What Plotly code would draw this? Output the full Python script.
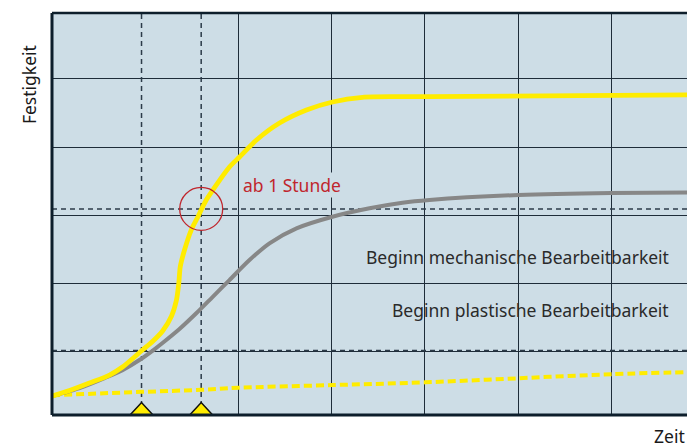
import plotly.graph_objects as go

# ---- data (arbitrary units: x = time grid units, y = strength grid units)
yellow_x = [0.0, 0.188, 0.402, 0.617, 0.756, 0.970, 1.078, 1.186, 1.282, 1.335, 1.360, 1.375, 1.421,
            1.493, 1.564, 1.654, 1.903, 2.011, 2.193, 2.440, 2.729, 3.008, 3.330, 3.694, 4.048, 6.81]
yellow_y = [0.338, 0.419, 0.529, 0.647, 0.765, 1.015, 1.140, 1.294, 1.515, 1.750, 2.000, 2.235, 2.485,
            2.779, 2.971, 3.221, 3.706, 3.853, 4.103, 4.353, 4.544, 4.662, 4.731, 4.740, 4.740, 4.765]

gray_x = [0.0, 0.295, 0.563, 0.756, 0.938, 1.088, 1.185, 1.367, 1.550, 1.721, 1.903, 2.118, 2.332, 2.622,
          3.008, 3.405, 3.759, 4.048, 5.003, 6.000, 6.81]
gray_y = [0.338, 0.456, 0.603, 0.720, 0.868, 1.015, 1.118, 1.324, 1.559, 1.794, 2.044, 2.338, 2.584, 2.804,
          2.975, 3.099, 3.181, 3.221, 3.294, 3.324, 3.331]

dashed_x = [0.0, 0.96, 1.60, 2.0, 3.01, 4.0, 5.0, 6.0, 6.81]
dashed_y = [0.35, 0.40, 0.43, 0.46, 0.50, 0.54, 0.60, 0.66, 0.69]

marker_times = [0.96, 1.60]          # dashed verticals + triangles
level_mech = 3.09                     # Beginn mechanische Bearbeitbarkeit
level_plast = 1.01                    # Beginn plastische Bearbeitbarkeit
x_grid = [2, 3, 4, 5, 6]
y_grid = [1, 2, 3, 4, 5]

X_RANGE = [0.0, 6.81]
Y_RANGE = [0.06, 5.97]

BG = "#cddde6"
GRID = "#1e2c39"
DASH = "#2c3b49"
YELLOW = "#ffec00"
GRAY = "#878787"
RED = "#c0262d"
FONT = "Noto Sans"
FS = 17.5

fig = go.Figure()
fig.add_trace(go.Scatter(x=dashed_x, y=dashed_y, mode="lines",
                         line=dict(color=YELLOW, width=4, dash="8px,4px", shape="spline"),
                         hoverinfo="skip"))
fig.add_trace(go.Scatter(x=gray_x, y=gray_y, mode="lines",
                         line=dict(color=GRAY, width=4, shape="spline", smoothing=0.7),
                         hoverinfo="skip"))
fig.add_trace(go.Scatter(x=yellow_x, y=yellow_y, mode="lines",
                         line=dict(color=YELLOW, width=4.8, shape="spline", smoothing=0.7),
                         hoverinfo="skip"))

shapes = []
# dashed reference lines
for t in marker_times:
    shapes.append(dict(type="line", xref="x", yref="y", x0=t, x1=t, y0=Y_RANGE[0], y1=Y_RANGE[1],
                       line=dict(color=DASH, width=1.5, dash="5px,4px"), layer="between"))
for lv in [level_mech, level_plast]:
    shapes.append(dict(type="line", xref="x", yref="y", x0=X_RANGE[0], x1=X_RANGE[1], y0=lv, y1=lv,
                       line=dict(color=DASH, width=1.5, dash="5px,4px"), layer="between"))
# red circle around 1 hour point
px_x = 635 / (X_RANGE[1] - X_RANGE[0])
px_y = 402 / (Y_RANGE[1] - Y_RANGE[0])
r = 21.5
shapes.append(dict(type="circle", xref="x", yref="y",
                   x0=marker_times[1] - r / px_x, x1=marker_times[1] + r / px_x,
                   y0=level_mech - r / px_y, y1=level_mech + r / px_y,
                   line=dict(color=RED, width=1.3), layer="above"))
# triangles on time axis
hw = 11.5 / px_x
h = 12.5 / px_y
for t in marker_times:
    y0 = Y_RANGE[0]
    shapes.append(dict(type="path", xref="x", yref="y",
                       path=f"M {t-hw},{y0} L {t},{y0+h} L {t+hw},{y0} Z",
                       fillcolor=YELLOW, line=dict(color="#111111", width=1.5), layer="above"))
# frame: left, top, bottom
shapes.append(dict(type="line", xref="paper", yref="paper", x0=0, x1=0, y0=0, y1=1,
                   line=dict(color="#0d1e2b", width=3), layer="above"))
shapes.append(dict(type="line", xref="paper", yref="paper", x0=0, x1=1, y0=1, y1=1,
                   line=dict(color="#0d1e2b", width=2.5), layer="above"))
shapes.append(dict(type="line", xref="paper", yref="paper", x0=0, x1=1, y0=0, y1=0,
                   line=dict(color="#0d1e2b", width=3), layer="above"))

annotations = [
    dict(text="ab 1 Stunde", xref="x", yref="y", x=2.04, y=3.44, xanchor="left", yanchor="middle",
         showarrow=False, font=dict(family=FONT, size=FS, color=RED), bgcolor=BG, borderpad=0),
    dict(text="Beginn mechanische Bearbeitbarkeit", xref="x", yref="y", x=6.64, y=2.38,
         xanchor="right", yanchor="middle", showarrow=False,
         font=dict(family=FONT, size=FS, color="#2a2a2a")),
    dict(text="Beginn plastische Bearbeitbarkeit", xref="x", yref="y", x=6.64, y=1.60,
         xanchor="right", yanchor="middle", showarrow=False,
         font=dict(family=FONT, size=FS, color="#2a2a2a")),
    dict(text="Festigkeit", xref="paper", yref="paper", x=-0.036, y=0.821, textangle=-90,
         xanchor="center", yanchor="middle", showarrow=False,
         font=dict(family=FONT, size=FS, color="#1a1a1a")),
    dict(text="Zeit", xref="paper", yref="paper", x=1.0, y=-0.053, xanchor="right", yanchor="middle",
         showarrow=False, font=dict(family=FONT, size=FS, color="#1a1a1a")),
]

fig.update_layout(
    width=687, height=447,
    margin=dict(l=52, r=0, t=13, b=32),
    paper_bgcolor="white", plot_bgcolor=BG,
    showlegend=False,
    shapes=shapes, annotations=annotations,
    xaxis=dict(range=X_RANGE, tickvals=x_grid, showticklabels=False, ticks="",
               showgrid=True, gridcolor=GRID, gridwidth=1.4, zeroline=False, showline=False,
               fixedrange=True),
    yaxis=dict(range=Y_RANGE, tickvals=y_grid, showticklabels=False, ticks="",
               showgrid=True, gridcolor=GRID, gridwidth=1.4, zeroline=False, showline=False,
               fixedrange=True),
)

fig.write_html("out.html", config={"displayModeBar": False},
               post_script="document.body.style.margin='0';document.body.style.overflow='hidden';")
